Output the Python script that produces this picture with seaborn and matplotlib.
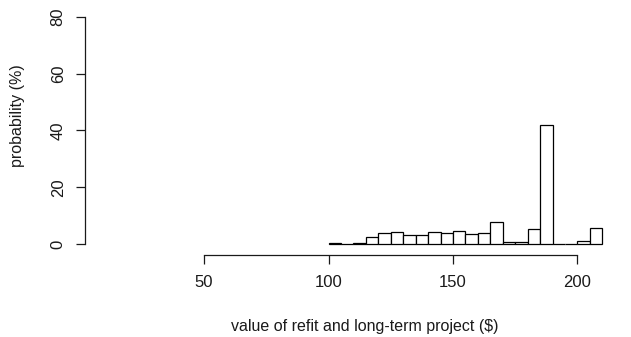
import numpy as np
import pandas as pd
import matplotlib
matplotlib.use("Agg")
import matplotlib.pyplot as plt
import seaborn as sns

# Histogram of project values: 5-dollar bins from 100 to 210, heights in percent
bin_edges = [100, 105, 110, 115, 120, 125, 130, 135, 140, 145, 150, 155, 160,
             165, 170, 175, 180, 185, 190, 195, 200, 205, 210]
percent = [0.3, 0.0, 0.3, 2.6, 4.0, 4.2, 3.2, 3.2, 4.2, 4.0, 4.7, 3.5, 4.0,
           7.6, 0.7, 0.7, 5.2, 42.0, 0.0, 0.0, 1.1, 5.5]
x_ticks = [50, 100, 150, 200]
y_ticks = [0, 20, 40, 60, 80]

centers = [(a + b) / 2 for a, b in zip(bin_edges[:-1], bin_edges[1:])]
df = pd.DataFrame({"value": centers, "pct": percent})

sns.set_style("white")
plt.rcParams["font.family"] = ["Liberation Sans", "DejaVu Sans"]

W, H = 631, 337
fig = plt.figure(figsize=(W / 100, H / 100), dpi=100)
ax = fig.add_axes([188.1 / W, (H - 253.1) / H, (618.3 - 188.1) / W, (253.1 - 7.7) / H])

sns.histplot(data=df, x="value", weights="pct", bins=bin_edges, stat="count",
             color="white", edgecolor="black", linewidth=0.9, alpha=1, ax=ax)

ax.set_xlim(43.6, 216.4)
ax.set_ylim(-3.2, 83.2)

for s in ["top", "right"]:
    ax.spines[s].set_visible(False)
ax.spines["left"].set_position(("outward", 103 * 72 / 100))
ax.spines["bottom"].set_position(("outward", 2 * 72 / 100))
ax.spines["left"].set_bounds(0, 80)
ax.spines["bottom"].set_bounds(50, 200)
for s in ["left", "bottom"]:
    ax.spines[s].set_color("#1a1a1a")
    ax.spines[s].set_linewidth(0.9)

ax.set_xticks(x_ticks)
ax.set_yticks(y_ticks)
ax.set_xticklabels([str(t) for t in x_ticks])
ax.set_yticklabels([str(t) for t in y_ticks], rotation=90, va="center")
ax.tick_params(axis="both", direction="out", length=6.5, width=0.9, colors="#1a1a1a",
               labelsize=12, left=True, bottom=True)
ax.tick_params(axis="x", pad=8)
ax.tick_params(axis="y", pad=7.5)

ax.set_xlabel("value of refit and long-term project ($)", fontsize=11.5, color="#1a1a1a")
ax.set_ylabel("probability (%)", fontsize=11.5, color="#1a1a1a")
ax.xaxis.set_label_coords((365 - 188.1) / (618.3 - 188.1), -(327 - 253.1) / (253.1 - 7.7))
ax.yaxis.set_label_coords(-(188.1 - 18) / (618.3 - 188.1), (253.1 - 116) / (253.1 - 7.7))
ax.xaxis.label.set_va("center")
ax.yaxis.label.set_va("center")
ax.grid(False)

fig.savefig("out.png", dpi=100, facecolor="white")
